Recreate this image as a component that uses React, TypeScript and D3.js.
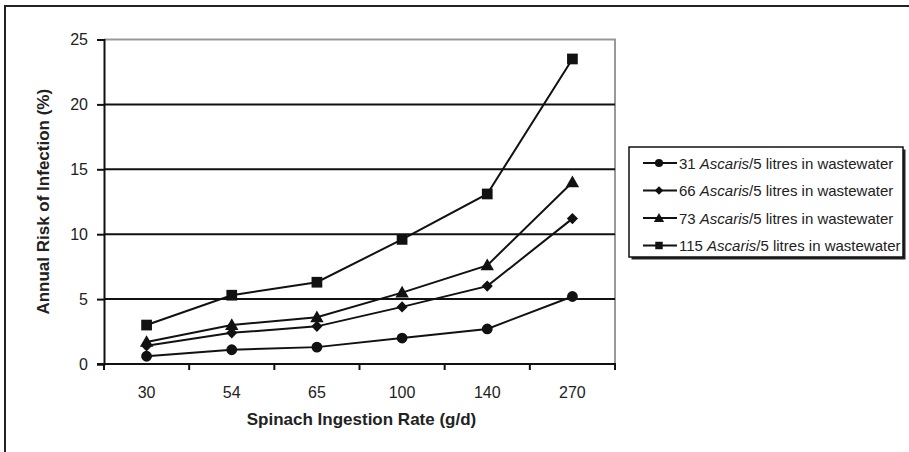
import React, { useEffect, useRef } from 'react';
import * as d3 from 'd3';

// Spinach ingestion rates (categorical x axis)
const rates = ['30', '54', '65', '100', '140', '270'];

const yTicks = [0, 5, 10, 15, 20, 25];

// Annual risk of infection (%) per Ascaris concentration
const risk31 = [0.6, 1.1, 1.3, 2.0, 2.7, 5.2];
const risk66 = [1.4, 2.4, 2.9, 4.4, 6.0, 11.2];
const risk73 = [1.7, 3.0, 3.6, 5.5, 7.6, 14.0];
const risk115 = [3.0, 5.3, 6.3, 9.6, 13.1, 23.5];

const seriesCounts = ['31', '66', '73', '115'];
const seriesSymbols = [d3.symbolCircle, d3.symbolSquare, d3.symbolTriangle, d3.symbolSquare];
const seriesRotate = [0, 45, 0, 0];
const plotSizes = [92, 62, 78, 115];
const legendSizes = [52, 36, 46, 56];

const App = () => {
  const svgRef = useRef<SVGSVGElement | null>(null);

  useEffect(() => {
    if (!svgRef.current) return;
    const svg = d3.select(svgRef.current);
    svg.selectAll('*').remove();

    const font = 'Arial, "Liberation Sans", Helvetica, sans-serif';
    const plot = { left: 104, right: 615, top: 39.5, bottom: 364 };

    // outer frame, running off the right and bottom edges
    svg.append('rect')
      .attr('x', 5).attr('y', 6)
      .attr('width', 940).attr('height', 480)
      .attr('fill', 'white')
      .attr('stroke', '#222').attr('stroke-width', 2);

    const x = d3.scaleBand<string>()
      .domain(rates)
      .range([plot.left, plot.right]);

    const y = d3.scaleLinear()
      .domain([0, 25])
      .range([plot.bottom, plot.top]);

    // plot border (gray top/right)
    svg.append('path')
      .attr('d', `M${plot.left},${plot.top}H${plot.right}V${plot.bottom}`)
      .attr('fill', 'none')
      .attr('stroke', '#999')
      .attr('stroke-width', 2);

    // gridlines
    svg.append('g')
      .selectAll('line')
      .data(yTicks.filter(t => t > 0 && t < 25))
      .enter()
      .append('line')
      .attr('x1', plot.left).attr('x2', plot.right)
      .attr('y1', d => y(d)).attr('y2', d => y(d))
      .attr('stroke', '#111').attr('stroke-width', 2);

    // y axis
    const yAxis = svg.append('g')
      .attr('transform', `translate(${plot.left},0)`)
      .call(d3.axisLeft(y).tickValues(yTicks).tickSize(7).tickPadding(9) as any);
    yAxis.select('.domain').attr('stroke', '#111').attr('stroke-width', 2);
    yAxis.selectAll('.tick line').attr('stroke', '#111').attr('stroke-width', 2);
    yAxis.selectAll('.tick text')
      .attr('font-family', font).attr('font-size', 16).attr('fill', '#222');

    // x axis
    const xAxis = svg.append('g')
      .attr('transform', `translate(0,${plot.bottom})`);
    xAxis.append('line')
      .attr('x1', plot.left - 7).attr('x2', plot.right + 1)
      .attr('y1', 0).attr('y2', 0)
      .attr('stroke', '#111').attr('stroke-width', 2);
    const bounds = rates.map(r => x(r) as number).concat([plot.right]);
    xAxis.selectAll('line.tk')
      .data(bounds)
      .enter()
      .append('line')
      .attr('class', 'tk')
      .attr('x1', d => d).attr('x2', d => d)
      .attr('y1', 0).attr('y2', 6)
      .attr('stroke', '#111').attr('stroke-width', 2);
    xAxis.selectAll('text')
      .data(rates)
      .enter()
      .append('text')
      .attr('x', d => (x(d) as number) + x.bandwidth() / 2)
      .attr('y', 34)
      .attr('text-anchor', 'middle')
      .attr('font-family', font).attr('font-size', 16).attr('fill', '#222')
      .text(d => d);

    // axis titles
    svg.append('text')
      .attr('x', (plot.left + plot.right) / 2 + 2)
      .attr('y', 425)
      .attr('text-anchor', 'middle')
      .attr('font-family', font).attr('font-size', 17).attr('font-weight', 'bold').attr('fill', '#222')
      .text('Spinach Ingestion Rate (g/d)');

    svg.append('text')
      .attr('transform', `translate(49,${(plot.top + plot.bottom) / 2}) rotate(-90)`)
      .attr('text-anchor', 'middle')
      .attr('font-family', font).attr('font-size', 17).attr('font-weight', 'bold').attr('fill', '#222')
      .text('Annual Risk of Infection (%)');

    const allSeries = [risk31, risk66, risk73, risk115];
    const cx = (i: number) => (x(rates[i]) as number) + x.bandwidth() / 2;

    const line = d3.line<number>()
      .x((_, i) => cx(i))
      .y(d => y(d));

    allSeries.forEach((vals, s) => {
      svg.append('path')
        .datum(vals)
        .attr('fill', 'none')
        .attr('stroke', '#111')
        .attr('stroke-width', 2)
        .attr('d', line);
      const sym = d3.symbol().type(seriesSymbols[s]).size(plotSizes[s]);
      svg.append('g')
        .selectAll('path')
        .data(vals)
        .enter()
        .append('path')
        .attr('transform', (d, i) => `translate(${cx(i)},${y(d) + (s === 2 ? 1 : 0)}) rotate(${seriesRotate[s]})`)
        .attr('d', sym() as string)
        .attr('fill', '#111');
    });

    // legend
    const lg = svg.append('g');
    lg.append('rect')
      .attr('x', 631.5).attr('y', 149.5)
      .attr('width', 274).attr('height', 110)
      .attr('fill', '#222');
    lg.append('rect')
      .attr('x', 629).attr('y', 147)
      .attr('width', 274).attr('height', 110)
      .attr('fill', 'white')
      .attr('stroke', '#111').attr('stroke-width', 1.5);

    seriesCounts.forEach((c, i) => {
      const ly = 163 + i * 27.5;
      lg.append('line')
        .attr('x1', 643).attr('x2', 677)
        .attr('y1', ly).attr('y2', ly)
        .attr('stroke', '#111').attr('stroke-width', 2);
      const sym = d3.symbol().type(seriesSymbols[i]).size(legendSizes[i]);
      lg.append('path')
        .attr('transform', `translate(659,${ly + (i === 2 ? 1 : 0)}) rotate(${seriesRotate[i]})`)
        .attr('d', sym() as string)
        .attr('fill', '#111');
      const t = lg.append('text')
        .attr('x', 679).attr('y', ly + 5.5)
        .attr('font-family', font).attr('font-size', 15).attr('fill', '#222');
      t.append('tspan').text(`${c} `);
      t.append('tspan').attr('font-style', 'italic').text('Ascaris');
      t.append('tspan').text('/5 litres in wastewater');
    });
  }, []);

  return (
    <svg
      ref={svgRef}
      width={909}
      height={452}
      style={{ position: 'absolute', left: 0, top: 0, background: 'white' }}
    />
  );
};

export default App;
